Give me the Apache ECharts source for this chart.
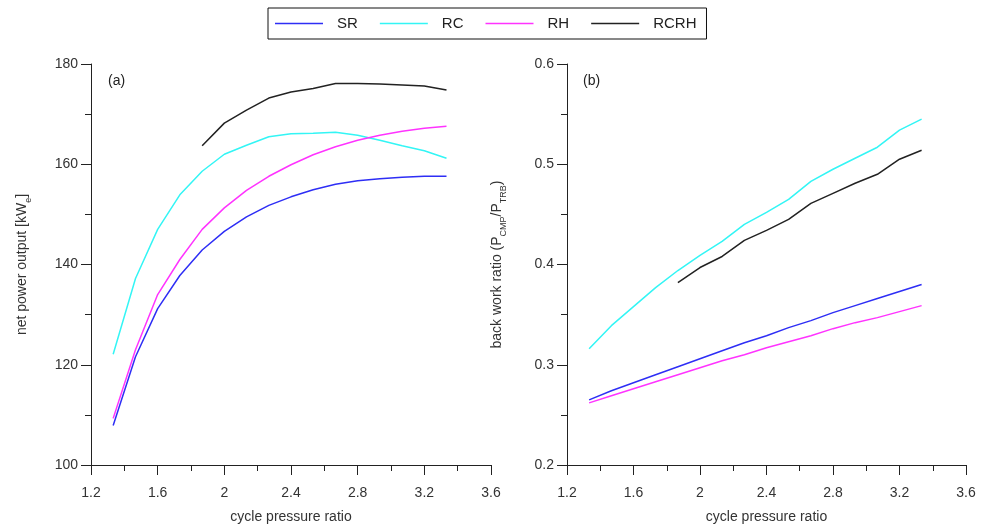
<!DOCTYPE html>
<html>
<head>
<meta charset="utf-8">
<script src="https://cdn.jsdelivr.net/npm/echarts@6/dist/echarts.min.js"></script>
<style>
  html, body { margin: 0; padding: 0; background: #fff; }
  #chart { width: 982px; height: 530px; }
</style>
</head>
<body>
<div id="chart"></div>
<script>
// cycle pressure ratio (x) for every curve; RCRH starts at the 5th point
const pressureRatio = [1.333, 1.467, 1.6, 1.733, 1.867, 2.0, 2.133, 2.267, 2.4, 2.533, 2.667, 2.8, 2.933, 3.067, 3.2, 3.333]
const rcrhRatio = pressureRatio.slice(4)

// (a) net power output [kWe]
const powerSR = [107.9, 121.6, 131.2, 137.8, 142.9, 146.6, 149.5, 151.8, 153.5, 154.9, 156.0, 156.7, 157.1, 157.4, 157.6, 157.6]
const powerRC = [122.1, 137.2, 147.0, 153.9, 158.6, 162.0, 163.8, 165.5, 166.1, 166.2, 166.4, 165.8, 164.8, 163.7, 162.7, 161.2]
const powerRH = [109.3, 123.0, 134.0, 141.0, 147.0, 151.3, 154.8, 157.6, 159.9, 161.9, 163.5, 164.8, 165.8, 166.6, 167.2, 167.6]
const powerRCRH = [163.7, 168.2, 170.8, 173.2, 174.4, 175.1, 176.1, 176.1, 176.0, 175.8, 175.6, 174.8]

// (b) back work ratio
const bwrSR = [0.265, 0.274, 0.282, 0.290, 0.298, 0.306, 0.314, 0.322, 0.329, 0.337, 0.344, 0.352, 0.359, 0.366, 0.373, 0.380]
const bwrRC = [0.316, 0.339, 0.358, 0.377, 0.394, 0.409, 0.423, 0.440, 0.452, 0.465, 0.483, 0.495, 0.506, 0.517, 0.534, 0.545]
const bwrRH = [0.262, 0.269, 0.276, 0.283, 0.290, 0.297, 0.304, 0.310, 0.317, 0.323, 0.329, 0.336, 0.342, 0.347, 0.353, 0.359]
const bwrRCRH = [0.382, 0.397, 0.408, 0.424, 0.434, 0.445, 0.461, 0.471, 0.481, 0.490, 0.505, 0.514]

const names = ['SR', 'RC', 'RH', 'RCRH']
const colors = ['#2e2ef5', '#33f5f5', '#ff33ff', '#222222']

const pairs = (xs, ys) => xs.map((x, i) => [x, ys[i]])

const font = 'Liberation Sans, Arial, sans-serif'
const axisColor = '#222'
const labelColor = '#333'

function xAxis(grid) {
  return {
    type: 'value', gridIndex: grid, min: 1.2, max: 3.6, interval: 0.4,
    name: 'cycle pressure ratio', nameLocation: 'middle', nameGap: 45,
    nameTextStyle: { fontFamily: font, fontSize: 14, color: labelColor },
    axisLine: { show: true, onZero: false, lineStyle: { color: axisColor, width: 1 } },
    axisTick: { show: true, inside: false, length: 10, lineStyle: { color: axisColor } },
    minorTick: { show: true, splitNumber: 2, length: 6, lineStyle: { color: axisColor } },
    axisLabel: { fontFamily: font, fontSize: 14, color: labelColor, margin: 21 },
    splitLine: { show: false }
  }
}

function yAxis(grid, min, max, interval, name, gap) {
  return {
    type: 'value', gridIndex: grid, min: min, max: max, interval: interval,
    name: name, nameLocation: 'middle', nameGap: gap,
    nameTextStyle: {
      fontFamily: font, fontSize: 14, color: labelColor,
      rich: { sub: { fontFamily: font, fontSize: 9, color: labelColor, verticalAlign: 'bottom', padding: [0, 0, -4, 0] } }
    },
    axisLine: { show: true, onZero: false, lineStyle: { color: axisColor, width: 1 } },
    axisTick: { show: true, inside: false, length: 10, lineStyle: { color: axisColor } },
    minorTick: { show: true, splitNumber: 2, length: 6, lineStyle: { color: axisColor } },
    axisLabel: { fontFamily: font, fontSize: 14, color: labelColor, margin: 13 },
    splitLine: { show: false }
  }
}

function line(name, grid, xs, ys) {
  const k = names.indexOf(name)
  return {
    name: name, type: 'line', xAxisIndex: grid, yAxisIndex: grid,
    data: pairs(xs, ys), symbol: 'none', smooth: false,
    lineStyle: { color: colors[k], width: 1.5 },
    itemStyle: { color: colors[k] }
  }
}

const chart = echarts.init(document.getElementById('chart'))

chart.setOption({
  animation: false,
  backgroundColor: '#fff',
  legend: {
    data: names, left: 268, top: 8,
    icon: 'path://M0,0 L48,0 L48,1.6 L0,1.6 Z',
    borderColor: '#111', borderWidth: 1, padding: [8, 10, 8, 7],
    itemWidth: 48, itemHeight: 1.6, itemGap: 22,
    textStyle: { fontFamily: font, fontSize: 15, color: '#222', padding: [0, 0, 0, 9] }
  },
  grid: [
    { left: 91, right: 491, top: 64, bottom: 65 },
    { left: 567, right: 16, top: 64, bottom: 65 }
  ],
  xAxis: [xAxis(0), xAxis(1)],
  yAxis: [
    yAxis(0, 100, 180, 20, 'net power output [kW{sub|e}]', 62),
    yAxis(1, 0.2, 0.6, 0.1, 'back work ratio (P{sub|CMP}/P{sub|TRB})', 63)
  ],
  graphic: [
    { type: 'text', left: 108, top: 74, style: { text: '(a)', font: '14px ' + font, fill: '#222' } },
    { type: 'text', left: 583, top: 74, style: { text: '(b)', font: '14px ' + font, fill: '#222' } }
  ],
  series: [
    line('SR', 0, pressureRatio, powerSR),
    line('RC', 0, pressureRatio, powerRC),
    line('RH', 0, pressureRatio, powerRH),
    line('RCRH', 0, rcrhRatio, powerRCRH),
    line('SR', 1, pressureRatio, bwrSR),
    line('RC', 1, pressureRatio, bwrRC),
    line('RH', 1, pressureRatio, bwrRH),
    line('RCRH', 1, rcrhRatio, bwrRCRH)
  ]
})
</script>
</body>
</html>
